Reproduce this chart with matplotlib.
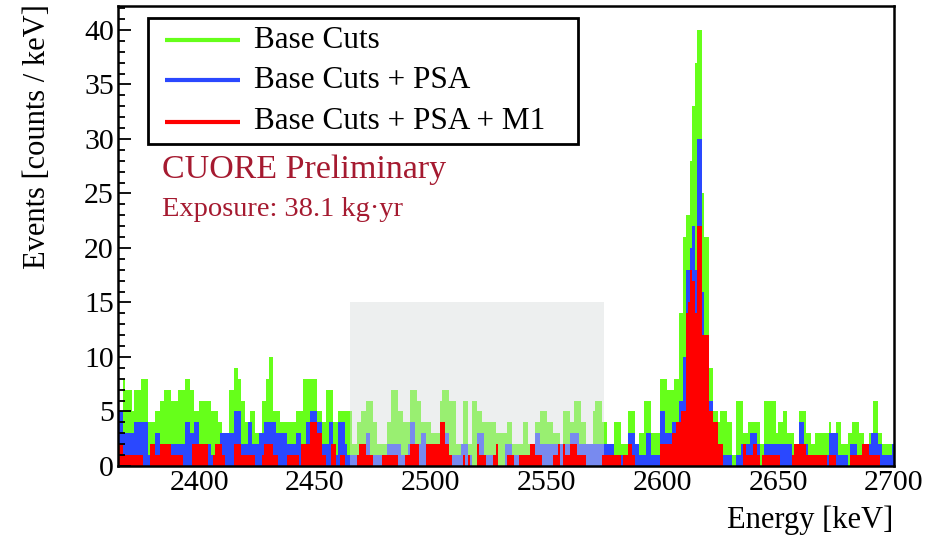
import numpy as np
import matplotlib
matplotlib.use('Agg')
import matplotlib.pyplot as plt
from matplotlib.patches import Rectangle
from matplotlib.ticker import MultipleLocator

# 1 keV bins, 2365 - 2700 keV
e_min = 2365
e_max = 2700

base_cuts = [
    5, 5, 8, 7, 7, 7, 5, 7, 7, 7,
    8, 8, 8, 4, 4, 4, 5, 5, 6, 6,
    7, 7, 7, 6, 6, 6, 7, 7, 7, 8,
    8, 7, 7, 5, 5, 6, 6, 6, 6, 6,
    5, 5, 5, 4, 4, 3, 3, 3, 7, 7,
    9, 9, 8, 6, 6, 4, 4, 5, 5, 3,
    3, 3, 6, 6, 8, 10, 10, 5, 5, 5,
    4, 4, 4, 4, 4, 4, 4, 5, 5, 5,
    8, 8, 8, 8, 8, 8, 5, 5, 4, 4,
    7, 7, 7, 4, 4, 5, 5, 5, 5, 5,
    5, 2, 2, 4, 4, 5, 5, 6, 6, 6,
    4, 4, 2, 2, 2, 2, 4, 4, 7, 7,
    7, 5, 5, 4, 4, 4, 7, 7, 7, 6,
    6, 4, 4, 4, 4, 3, 3, 3, 3, 6,
    7, 7, 7, 6, 6, 6, 2, 2, 2, 6,
    6, 2, 2, 6, 6, 5, 5, 4, 4, 4,
    4, 4, 4, 3, 3, 3, 3, 3, 4, 4,
    2, 2, 2, 2, 2, 4, 4, 2, 2, 2,
    4, 4, 5, 5, 5, 4, 4, 4, 3, 3,
    3, 2, 5, 5, 5, 4, 4, 6, 6, 6,
    4, 4, 2, 2, 2, 5, 6, 6, 6, 4,
    4, 2, 2, 2, 4, 4, 4, 2, 2, 2,
    5, 5, 5, 2, 2, 3, 3, 6, 6, 6,
    3, 3, 3, 3, 8, 8, 8, 7, 7, 7,
    8, 8, 14, 14, 21, 23, 23, 28, 33, 37,
    40, 40, 25, 21, 21, 9, 9, 5, 5, 4,
    5, 5, 5, 4, 4, 1, 1, 6, 6, 6,
    3, 3, 4, 4, 4, 4, 4, 2, 2, 6,
    6, 6, 6, 6, 3, 4, 4, 5, 5, 3,
    3, 3, 2, 2, 5, 5, 5, 3, 3, 2,
    2, 3, 3, 3, 3, 3, 3, 4, 3, 3,
    4, 4, 2, 2, 2, 3, 3, 4, 4, 4,
    3, 3, 2, 2, 3, 3, 6, 6, 3, 3,
    2, 2, 2, 2, 2,
]

with_psa = [
    5, 5, 3, 3, 3, 3, 3, 4, 4, 4,
    4, 4, 4, 1, 1, 1, 3, 3, 2, 2,
    2, 2, 2, 2, 2, 2, 2, 2, 2, 4,
    4, 3, 3, 4, 4, 2, 2, 2, 2, 2,
    1, 1, 1, 1, 3, 3, 3, 3, 3, 3,
    5, 5, 5, 2, 2, 2, 4, 4, 2, 2,
    2, 3, 3, 4, 4, 4, 4, 4, 3, 3,
    3, 3, 3, 2, 2, 2, 2, 3, 3, 2,
    2, 4, 4, 5, 5, 5, 4, 4, 2, 2,
    2, 4, 4, 1, 1, 4, 4, 4, 2, 1,
    1, 1, 1, 1, 1, 1, 2, 3, 3, 1,
    1, 1, 1, 1, 1, 1, 2, 2, 2, 2,
    2, 2, 1, 1, 1, 2, 4, 4, 2, 2,
    2, 3, 3, 1, 1, 1, 1, 1, 1, 4,
    4, 3, 3, 1, 1, 1, 1, 1, 2, 2,
    2, 1, 1, 0, 0, 3, 3, 3, 1, 1,
    1, 1, 1, 1, 0, 0, 0, 2, 2, 2,
    1, 1, 1, 1, 1, 1, 1, 1, 1, 2,
    3, 3, 2, 2, 2, 2, 2, 2, 2, 2,
    2, 2, 2, 2, 2, 3, 3, 3, 3, 2,
    2, 2, 2, 2, 2, 2, 2, 2, 2, 2,
    2, 2, 2, 2, 1, 1, 1, 1, 1, 1,
    3, 3, 3, 2, 2, 1, 1, 1, 3, 3,
    1, 1, 1, 1, 5, 5, 3, 3, 3, 4,
    4, 4, 6, 6, 10, 18, 18, 20, 22, 18,
    30, 30, 16, 12, 12, 6, 6, 1, 1, 1,
    1, 1, 1, 1, 1, 0, 0, 1, 1, 2,
    2, 2, 2, 3, 3, 3, 2, 0, 1, 2,
    2, 2, 2, 2, 2, 2, 2, 2, 2, 2,
    2, 1, 1, 1, 4, 4, 2, 2, 1, 1,
    1, 1, 1, 1, 1, 1, 1, 3, 3, 3,
    3, 1, 1, 1, 1, 0, 2, 2, 2, 1,
    1, 1, 2, 2, 2, 3, 3, 3, 2, 2,
    1, 1, 1, 1, 2,
]

with_psa_m1 = [
    2, 2, 1, 1, 1, 1, 1, 1, 1, 1,
    1, 0, 0, 0, 2, 2, 1, 1, 2, 2,
    2, 2, 2, 1, 1, 1, 1, 1, 0, 0,
    0, 0, 2, 2, 2, 2, 2, 2, 2, 0,
    0, 1, 2, 2, 2, 1, 0, 0, 0, 0,
    2, 2, 2, 1, 1, 1, 1, 1, 1, 0,
    0, 0, 1, 2, 2, 2, 2, 1, 1, 0,
    0, 0, 0, 1, 1, 1, 1, 1, 0, 2,
    2, 2, 2, 4, 4, 4, 3, 3, 1, 1,
    0, 0, 2, 2, 0, 0, 1, 1, 0, 0,
    0, 0, 0, 1, 2, 2, 2, 1, 1, 1,
    0, 0, 0, 0, 1, 1, 1, 1, 1, 1,
    1, 0, 0, 0, 1, 1, 2, 2, 2, 2,
    0, 0, 0, 2, 2, 2, 2, 2, 2, 4,
    4, 2, 2, 1, 0, 0, 0, 0, 0, 1,
    0, 1, 0, 0, 0, 2, 1, 1, 1, 0,
    0, 0, 1, 2, 0, 0, 0, 0, 1, 1,
    1, 0, 0, 1, 1, 1, 1, 1, 2, 2,
    1, 1, 1, 0, 0, 0, 0, 0, 1, 1,
    2, 0, 2, 1, 1, 2, 2, 2, 1, 1,
    1, 1, 0, 0, 0, 0, 0, 0, 0, 1,
    1, 1, 1, 1, 1, 1, 1, 0, 1, 1,
    2, 2, 1, 0, 0, 0, 0, 0, 0, 0,
    0, 0, 0, 0, 2, 2, 2, 2, 2, 3,
    3, 4, 4, 5, 5, 14, 15, 18, 17, 14,
    22, 22, 12, 12, 12, 5, 5, 4, 4, 2,
    2, 0, 0, 0, 0, 0, 0, 0, 0, 0,
    2, 1, 1, 1, 2, 2, 1, 0, 1, 1,
    1, 1, 1, 1, 1, 1, 0, 0, 0, 0,
    0, 1, 2, 2, 2, 2, 2, 1, 1, 1,
    1, 1, 1, 1, 1, 1, 0, 1, 1, 1,
    0, 0, 0, 0, 0, 0, 1, 1, 1, 1,
    1, 2, 2, 2, 1, 1, 1, 1, 1, 0,
    0, 0, 0, 0, 0,
]

labels = ['Base Cuts', 'Base Cuts + PSA', 'Base Cuts + PSA + M1']
colors = ['#66ff1a', '#2a48ff', '#ff0000']

# shaded region (keV, counts)
roi_lo, roi_hi, roi_top = 2465, 2575, 15

plt.rcParams['font.family'] = 'Liberation Serif'

fig = plt.figure(figsize=(9.42, 5.36), dpi=100)
ax = fig.add_axes([118 / 942, 1 - 466 / 536, 776 / 942, 460 / 536])

edges = np.arange(e_min, e_max + 1)
ax.stairs(base_cuts, edges, fill=True, color=colors[0], zorder=2)
ax.stairs(with_psa, edges, fill=True, color=colors[1], zorder=3)
ax.add_patch(Rectangle((roi_lo, 0), roi_hi - roi_lo, roi_top,
                       facecolor='#d8dcdc', alpha=0.45, linewidth=0, zorder=4))
ax.stairs(with_psa_m1, edges, fill=True, color=colors[2], zorder=5)

ax.set_xlim(e_min, e_max)
ax.set_ylim(0, 42.2)

# ROOT-like axes
for s in ax.spines.values():
    s.set_linewidth(1.8)
    s.set_zorder(10)
ax.xaxis.set_major_locator(MultipleLocator(50))
ax.xaxis.set_minor_locator(MultipleLocator(10))
ax.yaxis.set_major_locator(MultipleLocator(5))
ax.yaxis.set_minor_locator(MultipleLocator(1))
ax.tick_params(axis='both', which='both', direction='in', labelsize=21.5,
               top=False, right=False)
ax.tick_params(axis='y', which='major', length=9.5, width=1.3, pad=3)
ax.tick_params(axis='y', which='minor', length=4.8, width=1.3)
ax.tick_params(axis='x', which='major', length=9, width=1.3, pad=3)
ax.tick_params(axis='x', which='minor', length=4.5, width=1.3)
ax.xaxis.set_zorder(1)
ax.yaxis.set_zorder(6)

fig.text(893 / 942, 1 - 520 / 536, 'Energy [keV]', fontsize=22,
         ha='right', va='center')
fig.text(38 / 942, 1 - 4 / 536, 'Events [counts / keV]', fontsize=22,
         rotation=90, ha='center', va='top')

# legend box drawn by hand
ax.add_patch(Rectangle((0.0387, 0.70), 0.554, 0.274, transform=ax.transAxes,
                       facecolor='white', edgecolor='black', linewidth=2, zorder=11))
for i, (lab, c) in enumerate(zip(labels, colors)):
    y = [0.926, 0.839, 0.748][i]
    ax.plot([0.0606, 0.157], [y, y], transform=ax.transAxes, color=c,
            linewidth=3, zorder=12, solid_capstyle='butt')
    ax.text(0.175, y, lab, transform=ax.transAxes, fontsize=22.5,
            va='center', ha='left', zorder=12)

ax.text(0.0567, 0.643, 'CUORE Preliminary', transform=ax.transAxes,
        fontsize=24.5, color='#a51a30', va='center', ha='left', zorder=12)
ax.text(0.0567, 0.557, 'Exposure: 38.1 kg\u00b7yr', transform=ax.transAxes,
        fontsize=20.5, color='#a51a30', va='center', ha='left', zorder=12)

fig.savefig('out.png', dpi=100)
